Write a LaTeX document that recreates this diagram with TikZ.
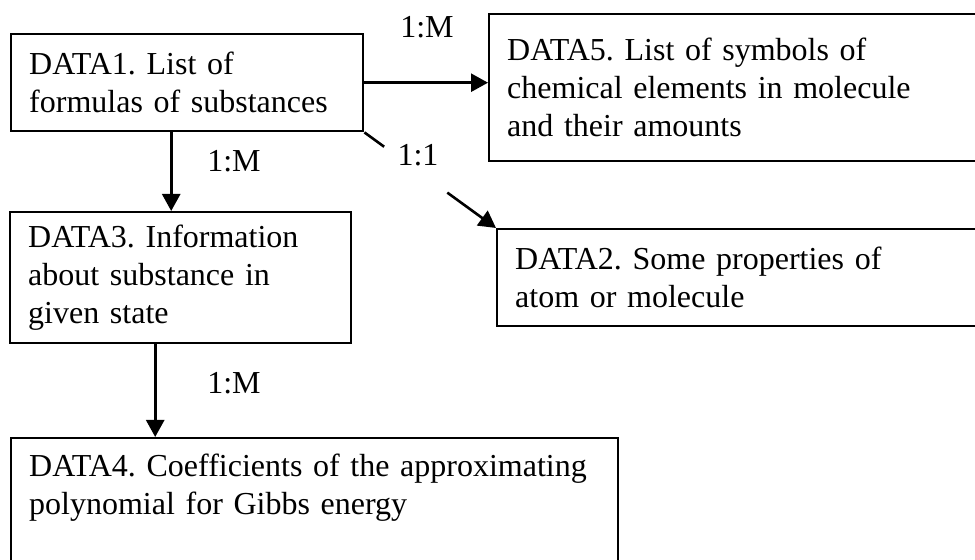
\documentclass[tikz,border=0pt]{standalone}
\usepackage{fontspec}
\setmainfont{Liberation Serif}
\usetikzlibrary{arrows.meta, calc}
\frenchspacing

\begin{document}
\begin{tikzpicture}[x=0.5pt, y=-0.5pt,
                    every node/.style={font=\fontsize{16}{19}\selectfont},
                    databox/.style={draw, line width=1.2pt, anchor=north west, align=left,
                                    inner xsep=9pt, inner ysep=0pt},
                    link/.style={line width=1.3pt, -{Triangle[length=8.5pt, width=9pt]}},
                    card/.style={inner sep=0pt}]
                    \useasboundingbox (0,0) rectangle (975,560);
                    \clip (0,0) rectangle (975,560);

                    % Data boxes
                    \node[databox, text width=158pt, minimum height=48.5pt] (d1) at (10,33)
                        {DATA1. List of\\formulas of substances};
                    \node[databox, text width=232pt, minimum height=73.5pt] (d5) at (488,13)
                        {DATA5. List of symbols of\\chemical elements in molecule\\and their amounts};
                    \node[databox, text width=232pt, minimum height=48.5pt] (d2) at (496,228)
                        {DATA2. Some properties of\\atom or molecule};
                    \node[databox, text width=152.5pt, minimum height=65.5pt] (d3) at (9,211)
                        {DATA3. Information\\about substance in\\given state};
                    \node[databox, text width=285.5pt, minimum height=65pt] (d4) at (10,437)
                        {DATA4. Coefficients of the approximating\\polynomial for Gibbs energy\\\mbox{}};

                    % Links
                    \draw[link] (d1.east) -- (d1.east -| d5.west);
                    \draw[link] ([xshift=-8pt]d1.south) -- ([xshift=-8pt]d1.south |- d3.north);
                    \draw[link] ([xshift=-12.75pt]d3.south) -- ([xshift=-12.75pt]d3.south |- d4.north);
                    \draw[link] (d1.south east) -- ($(d1.south east)!0.15!(d2.north west)$)
                        ($(d1.south east)!0.63!(d2.north west)$) -- (d2.north west);

                    % Cardinalities
                    \node[card] (m15) at (427,27) {1:M};
                    \node[card] (m13) at (234,161) {1:M};
                    \node[card] (o12) at (418,155) {1:1};
                    \node[card] (m34) at (234,383) {1:M};
                \end{tikzpicture}
\end{document}
